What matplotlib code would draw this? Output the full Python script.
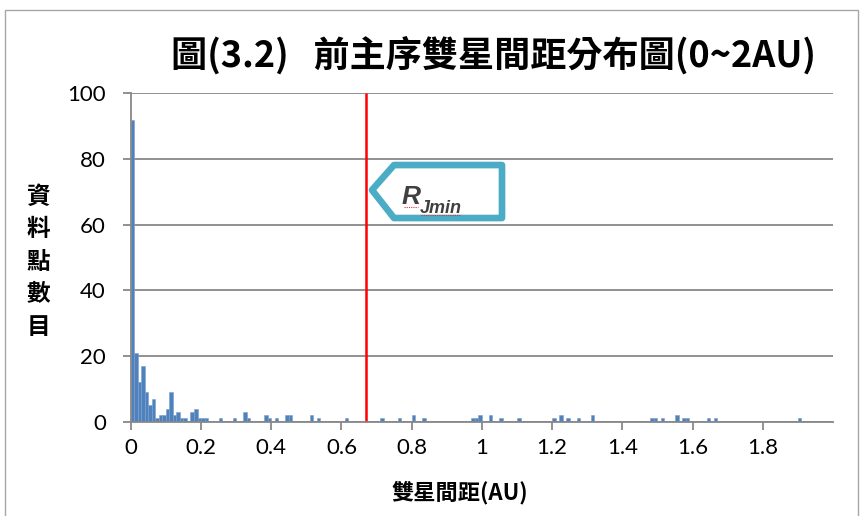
import matplotlib.pyplot as plt
from matplotlib.patches import Polygon, Rectangle

plt.rcParams['font.family'] = ['Noto Sans CJK TC', 'DejaVu Sans']

# Histogram of binary separations, 0.01 AU bins (only non-empty bins listed)
bin_start = [0.00, 0.01, 0.02, 0.03, 0.04, 0.05, 0.06, 0.07, 0.08, 0.09,
             0.10, 0.11, 0.12, 0.13, 0.14, 0.15, 0.17, 0.18, 0.19, 0.20,
             0.21, 0.25, 0.29, 0.32, 0.33, 0.38, 0.39, 0.41, 0.44, 0.45,
             0.51, 0.53, 0.61, 0.71, 0.76, 0.80, 0.83, 0.97, 0.98, 0.99,
             1.02, 1.05, 1.10, 1.20, 1.22, 1.24, 1.27, 1.31, 1.48, 1.49,
             1.51, 1.55, 1.57, 1.58, 1.64, 1.66, 1.90]
counts = [92, 21, 12, 17, 9, 5, 7, 1, 2, 2,
          4, 9, 2, 3, 1, 1, 3, 4, 1, 1,
          1, 1, 1, 3, 1, 2, 1, 1, 2, 2,
          2, 1, 1, 1, 1, 2, 1, 1, 1, 2,
          2, 1, 1, 1, 2, 1, 1, 2, 1, 1,
          1, 2, 1, 1, 1, 1, 1]
bin_width = 0.01
r_jmin = 0.671

xticks = [0, 0.2, 0.4, 0.6, 0.8, 1.0, 1.2, 1.4, 1.6, 1.8]
xtick_labels = ['0', '0.2', '0.4', '0.6', '0.8', '1', '1.2', '1.4', '1.6', '1.8']
yticks = [0, 20, 40, 60, 80, 100]

W, H = 863, 516
fig = plt.figure(figsize=(W / 100, H / 100), dpi=100)
ax = fig.add_axes([130.8 / W, 1 - 421.7 / H, (833 - 130.8) / W, (421.7 - 93.3) / H])

grid_c = '#888888'
ax.bar(bin_start, counts, width=bin_width, align='edge',
       color='#4F81BD', edgecolor='#7BA0CF', linewidth=0.4, zorder=2)
ax.vlines(r_jmin, 0, 100, color='#FF0000', linewidth=1.8, zorder=3, clip_on=False)

ax.set_xlim(0, 2.0)
ax.set_ylim(0, 100)
ax.set_xticks(xticks)
ax.set_xticklabels(xtick_labels)
ax.set_yticks(yticks)
ax.yaxis.grid(True, color=grid_c, linewidth=1.3, zorder=0)
ax.set_axisbelow(True)
for s in ['top', 'right']:
    ax.spines[s].set_visible(False)
for s in ['left', 'bottom']:
    ax.spines[s].set_color(grid_c)
    ax.spines[s].set_linewidth(1.3)
    ax.spines[s].set_zorder(4)
ax.tick_params(axis='both', direction='out', length=6, width=1.3, color=grid_c)
ax.tick_params(axis='x', pad=6)
ax.tick_params(axis='y', pad=12)
for lab in ax.get_xticklabels() + ax.get_yticklabels():
    lab.set_fontfamily('Lato')
    lab.set_fontsize(16)
    lab.set_color('#000000')

# Callout pointing at the red line
def px(x, y):
    return ((x - 130.8) / 351.1, (421.7 - y) / 3.2845)

callout = Polygon([px(372, 190), px(394, 165), px(502, 165), px(502, 218), px(394, 218)],
                  closed=True, facecolor='white', edgecolor='#4BACC6',
                  linewidth=4.8, joinstyle='round', zorder=5)
ax.add_patch(callout)
ax.text(*px(402, 204), 'R', fontfamily='Liberation Sans', fontsize=19, fontweight='bold',
        fontstyle='italic', color='#404040', zorder=6)
ax.text(*px(420, 213), 'Jmin', fontfamily='Liberation Sans', fontsize=13, fontweight='bold',
        fontstyle='italic', color='#404040', zorder=6)
ax.plot(*zip(px(404, 207), px(418, 207)), color='#E03030', linewidth=0.8,
        linestyle=(0, (1, 1)), zorder=6)
ax.plot(*zip(px(421, 215), px(460, 215)), color='#E03030', linewidth=0.8,
        linestyle=(0, (1, 1)), zorder=6)

# Titles and labels
fig.text(493 / W, 1 - 55 / H, '圖(3.2)   前主序雙星間距分布圖(0~2AU)', ha='center', va='center',
         fontsize=26, fontweight='bold')
fig.text(460 / W, 1 - 493 / H, '雙星間距(AU)', ha='center', va='center',
         fontsize=16, fontweight='bold')
fig.text(38 / W, 1 - 262 / H, '資\n料\n點\n數\n目', ha='center', va='center',
         fontsize=17, fontweight='bold', linespacing=1.45)

# Chart frame
fig.patches.append(Rectangle((5 / W, -0.1), (858 - 5) / W, 1.1 - 10 / H,
                             transform=fig.transFigure, fill=False,
                             edgecolor='#A6A6A6', linewidth=1))

fig.savefig('out.png', dpi=100)
